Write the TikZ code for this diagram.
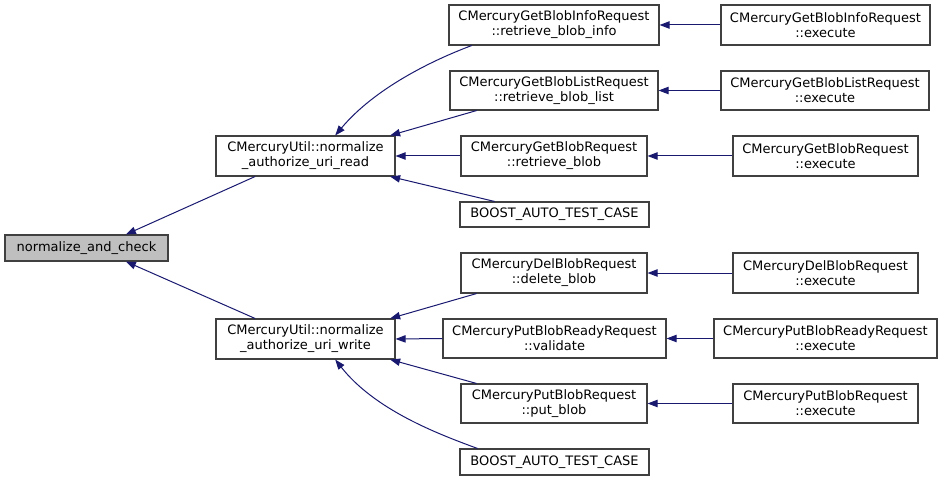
\documentclass[tikz,border=0pt]{standalone}
\usepackage{fontspec}
\setmainfont{DejaVu Sans}
\usetikzlibrary{arrows.meta,calc}
\definecolor{edgec}{HTML}{191970}
\definecolor{boxc}{HTML}{404040}
\definecolor{rootfill}{HTML}{BFBFBF}
\tikzset{
  fn/.style={draw=boxc, line width=0.8pt, fill=white, inner sep=0pt, align=center,
    font=\fontsize{9.75}{11.25}\selectfont, minimum height=30pt},
  call/.style={draw=edgec, line width=0.75pt, -{Triangle[length=7.5pt,width=5.5pt]}},
}
\begin{document}
\begin{tikzpicture}[x=0.75pt,y=-0.75pt]
\useasboundingbox (0,0) rectangle (949,481);
% nodes
\node[fn, fill=rootfill, minimum width=122.25pt, minimum height=19.5pt] (nac) at (86.5,248) {normalize\_and\_check};
\node[fn, minimum width=134.25pt] (read) at (305.5,156) {CMercuryUtil::normalize\\\_authorize\_uri\_read};
\node[fn, minimum width=134.25pt] (write) at (305.5,339) {CMercuryUtil::normalize\\\_authorize\_uri\_write};
\node[fn, minimum width=157.5pt] (info) at (554,25) {CMercuryGetBlobInfoRequest\\::retrieve\_blob\_info};
\node[fn, minimum width=156.75pt] (infoE) at (825.5,25) {CMercuryGetBlobInfoRequest\\::execute};
\node[fn, minimum width=156pt, minimum height=29.25pt] (list) at (554,90.5) {CMercuryGetBlobListRequest\\::retrieve\_blob\_list};
\node[fn, minimum width=156pt, minimum height=29.25pt] (listE) at (825,90.5) {CMercuryGetBlobListRequest\\::execute};
\node[fn, minimum width=139.5pt] (blob) at (554,156) {CMercuryGetBlobRequest\\::retrieve\_blob};
\node[fn, minimum width=138.75pt] (blobE) at (825.5,156) {CMercuryGetBlobRequest\\::execute};
\node[fn, minimum width=141.75pt, minimum height=18.75pt] (boostA) at (554.5,214.5) {BOOST\_AUTO\_TEST\_CASE};
\node[fn, minimum width=139.5pt] (del) at (554,273) {CMercuryDelBlobRequest\\::delete\_blob};
\node[fn, minimum width=138.75pt] (delE) at (825.5,273) {CMercuryDelBlobRequest\\::execute};
\node[fn, minimum width=167.25pt, minimum height=29.25pt] (ready) at (554.5,338.5) {CMercuryPutBlobReadyRequest\\::validate};
\node[fn, minimum width=167.25pt, minimum height=29.25pt] (readyE) at (825.5,338.5) {CMercuryPutBlobReadyRequest\\::execute};
\node[fn, minimum width=139.5pt, minimum height=29.25pt] (put) at (554,403.5) {CMercuryPutBlobRequest\\::put\_blob};
\node[fn, minimum width=138.75pt, minimum height=29.25pt] (putE) at (825.5,403.5) {CMercuryPutBlobRequest\\::execute};
\node[fn, minimum width=141.75pt, minimum height=19.5pt] (boostB) at (554.5,462) {BOOST\_AUTO\_TEST\_CASE};
% edges to root
\draw[call] ($(read.south west)!0.22!(read.south east)$) -- ($(nac.north west)!0.74!(nac.north east)$);
\draw[call] ($(write.north west)!0.22!(write.north east)$) -- ($(nac.south west)!0.74!(nac.south east)$);
% edges to read
\draw[call] ($(info.south west)!0.11!(info.south east)$) .. controls (433,60) and (375,88) .. ($(read.north west)!0.665!(read.north east)$);
\draw[call] ($(list.south west)!0.13!(list.south east)$) -- ($(read.north west)!0.97!(read.north east)$);
\draw[call] (blob.west) -- (read.east);
\draw[call] ($(boostA.north west)!0.185!(boostA.north east)$) -- ($(read.south west)!0.97!(read.south east)$);
% edges to write
\draw[call] ($(del.south west)!0.086!(del.south east)$) -- ($(write.north west)!0.97!(write.north east)$);
\draw[call] (ready.west) -- (write.east);
\draw[call] ($(put.north west)!0.086!(put.north east)$) -- ($(write.south west)!0.97!(write.south east)$);
\draw[call] ($(boostB.north west)!0.095!(boostB.north east)$) .. controls (438,434) and (375,410) .. ($(write.south west)!0.665!(write.south east)$);
% execute edges
\draw[call] (infoE.west) -- (info.east);
\draw[call] (listE.west) -- (list.east);
\draw[call] (blobE.west) -- (blob.east);
\draw[call] (delE.west) -- (del.east);
\draw[call] (readyE.west) -- (ready.east);
\draw[call] (putE.west) -- (put.east);
\end{tikzpicture}
\end{document}
